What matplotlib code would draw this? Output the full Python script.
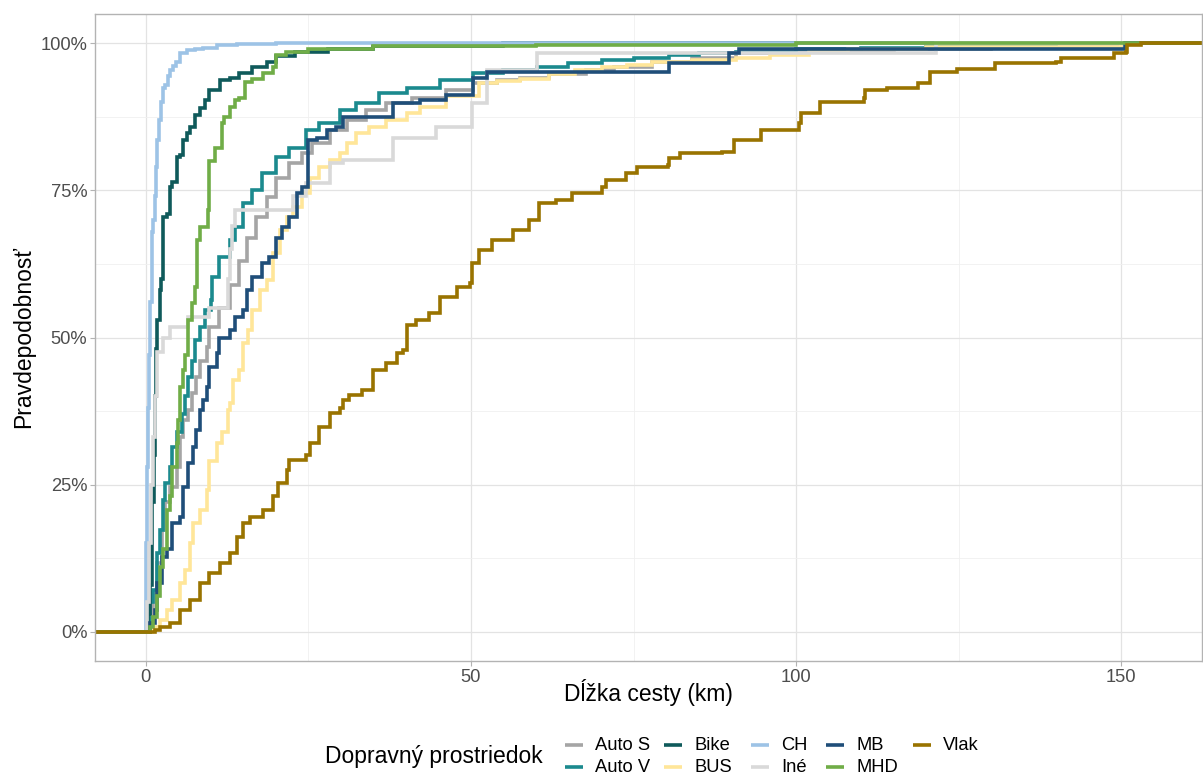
import numpy as np
import matplotlib
matplotlib.use("Agg")
import matplotlib.pyplot as plt
from matplotlib.lines import Line2D
from matplotlib.ticker import FixedLocator, FuncFormatter

plt.rcParams['font.family'] = ['Liberation Sans', 'DejaVu Sans']

# ---------------- data (ECDF breakpoints) ----------------
modes = ["Auto S", "Auto V", "Bike", "BUS", "CH", "Iné", "MB", "MHD", "Vlak"]
colors = ["#A5A5A5", "#1B8A8E", "#0F5A5B", "#FFE699", "#9DC3E6",
          "#D9D9D9", "#1F4E79", "#70AD47", "#997300"]

auto_s_km = [0.3, 1.1, 1.7, 2.5, 2.9, 3.7, 4.8, 5.2, 5.7, 6.5, 7.1, 7.8, 8.3, 9.4, 9.8,
             11.3, 12.9, 14.4, 15.5, 17.0, 18.6, 20.1, 22.1, 24.1, 25.6, 28.3, 30.9, 33.9,
             37.0, 41.0, 46.2, 50.3, 54.0, 57.5, 62.0, 67.7, 72.0, 77.9, 84.0, 90.8, 100.0,
             115.0, 130.0, 150.0]
auto_s_p = [0.025, 0.066, 0.117, 0.173, 0.22, 0.246, 0.28, 0.33, 0.36, 0.377, 0.406, 0.433,
            0.46, 0.484, 0.518, 0.55, 0.59, 0.63, 0.67, 0.705, 0.739, 0.772, 0.796, 0.813,
            0.83, 0.852, 0.869, 0.886, 0.898, 0.908, 0.92, 0.932, 0.938, 0.942, 0.948,
            0.954, 0.96, 0.968, 0.976, 0.983, 0.986, 0.99, 0.994, 1.0]

auto_v_km = [0.2, 0.6, 1.1, 1.7, 2.15, 2.6, 2.9, 3.7, 4.1, 4.8, 5.5, 6.0, 6.5, 7.1, 7.5,
             8.3, 9.1, 10.1, 10.2, 11.3, 12.9, 13.7, 14.9, 16.4, 17.9, 20.1, 22.1, 24.7,
             26.7, 29.8, 32.4, 35.9, 40.1, 45.2, 50.3, 55.0, 60.1, 65.0, 70.2, 75.0, 80.5,
             85.0, 90.8, 100.0, 110.0, 120.0, 130.0, 140.0]
auto_v_p = [0.015, 0.05, 0.07, 0.134, 0.173, 0.224, 0.253, 0.28, 0.314, 0.34, 0.37, 0.40,
            0.433, 0.46, 0.496, 0.518, 0.547, 0.564, 0.603, 0.637, 0.665, 0.688, 0.728,
            0.75, 0.78, 0.807, 0.823, 0.852, 0.864, 0.886, 0.898, 0.915, 0.925, 0.937,
            0.949, 0.955, 0.96, 0.966, 0.971, 0.976, 0.98, 0.983, 0.986, 0.99, 0.993,
            0.995, 0.997, 1.0]

bike_km = [0.3, 0.6, 0.9, 1.0, 1.2, 1.4, 1.6, 1.7, 2.15, 2.4, 2.6, 3.2, 3.7, 4.1, 4.8,
           5.2, 5.7, 6.3, 6.8, 7.5, 8.3, 9.1, 9.8, 11.4, 12.9, 14.4, 16.4, 18.6, 20.1,
           23.0, 28.0, 35.0, 55.0]
bike_p = [0.03, 0.08, 0.15, 0.22, 0.30, 0.40, 0.48, 0.53, 0.58, 0.60, 0.705, 0.71, 0.756,
          0.764, 0.807, 0.81, 0.835, 0.847, 0.858, 0.878, 0.89, 0.903, 0.92, 0.937, 0.942,
          0.95, 0.96, 0.968, 0.978, 0.985, 0.99, 0.995, 1.0]

bus_km = [0.9, 2.15, 3.2, 4.1, 5.2, 6.0, 6.8, 7.2, 8.3, 9.4, 9.8, 10.9, 11.8, 12.6, 13.0,
          13.4, 14.4, 14.9, 15.7, 16.4, 17.5, 18.6, 19.5, 20.6, 21.7, 22.6, 24.1, 25.2,
          26.7, 28.3, 29.8, 30.9, 32.4, 34.4, 37.0, 40.1, 42.1, 46.2, 51.3, 54.0, 57.5,
          62.0, 66.0, 70.2, 74.0, 77.9, 84.0, 90.8, 96.0, 102.0, 108.0, 120.0, 150.0]
bus_p = [0.008, 0.02, 0.037, 0.054, 0.083, 0.105, 0.15, 0.185, 0.207, 0.24, 0.29, 0.32,
         0.34, 0.377, 0.389, 0.428, 0.445, 0.49, 0.513, 0.547, 0.58, 0.598, 0.643, 0.683,
         0.705, 0.722, 0.745, 0.772, 0.79, 0.801, 0.813, 0.83, 0.847, 0.858, 0.869, 0.881,
         0.892, 0.91, 0.932, 0.936, 0.94, 0.948, 0.955, 0.96, 0.964, 0.968, 0.972, 0.976,
         0.981, 0.986, 0.99, 0.994, 1.0]

ch_km = [0.0, 0.1, 0.2, 0.3, 0.5, 0.7, 0.9, 1.1, 1.4, 1.6, 1.8, 2.1, 2.4, 2.6, 3.0, 3.4,
         3.7, 4.2, 4.6, 5.2, 6.3, 7.5, 8.8, 11.0, 14.0, 20.0]
ch_p = [0.05, 0.15, 0.28, 0.38, 0.47, 0.56, 0.68, 0.70, 0.74, 0.79, 0.835, 0.87, 0.90,
        0.925, 0.93, 0.945, 0.954, 0.962, 0.968, 0.983, 0.988, 0.991, 0.993, 0.998,
        0.999, 1.0]

ine_km = [0.2, 0.5, 0.8, 1.1, 1.4, 1.7, 2.6, 3.7, 6.5, 9.8, 12.7, 13.0, 13.3, 13.7, 22.6,
          24.7, 28.3, 30.3, 38.0, 44.7, 50.2, 52.4, 60.1, 121.5]
ine_p = [0.05, 0.15, 0.25, 0.33, 0.40, 0.475, 0.50, 0.518, 0.535, 0.55, 0.60, 0.65, 0.69,
         0.716, 0.74, 0.762, 0.796, 0.801, 0.84, 0.858, 0.898, 0.955, 0.983, 1.0]

mb_km = [0.6, 1.4, 1.8, 2.5, 3.2, 4.1, 5.2, 5.7, 6.5, 7.2, 7.8, 8.3, 8.8, 9.4, 9.8, 10.9,
         11.3, 12.9, 13.7, 14.9, 15.5, 16.4, 17.9, 19.0, 20.1, 21.0, 22.1, 23.3, 24.1,
         24.9, 26.3, 27.8, 29.3, 30.3, 38.0, 42.1, 46.2, 50.3, 52.4, 80.5, 89.7, 91.2,
         150.5]
mb_p = [0.015, 0.037, 0.083, 0.127, 0.14, 0.185, 0.195, 0.246, 0.287, 0.314, 0.343, 0.377,
        0.394, 0.416, 0.45, 0.474, 0.50, 0.513, 0.535, 0.547, 0.58, 0.603, 0.626, 0.637,
        0.67, 0.688, 0.705, 0.745, 0.756, 0.835, 0.84, 0.852, 0.858, 0.875, 0.898, 0.903,
        0.912, 0.942, 0.951, 0.966, 0.983, 0.991, 1.0]

mhd_km = [0.6, 1.1, 1.7, 2.15, 2.6, 3.2, 3.7, 4.1, 4.8, 4.9, 5.2, 5.7, 6.0, 6.5, 7.1, 7.6,
          7.9, 8.3, 9.5, 9.8, 10.6, 11.7, 12.1, 12.9, 13.7, 14.4, 15.2, 16.4, 18.0, 19.5,
          20.1, 21.5, 25.0, 35.0, 60.0, 100.0]
mhd_p = [0.008, 0.025, 0.06, 0.11, 0.14, 0.207, 0.23, 0.28, 0.32, 0.36, 0.416, 0.445, 0.47,
         0.53, 0.558, 0.586, 0.665, 0.688, 0.716, 0.80, 0.823, 0.864, 0.875, 0.892, 0.903,
         0.908, 0.934, 0.94, 0.95, 0.96, 0.98, 0.985, 0.99, 0.995, 0.998, 1.0]

vlak_km = [1.4, 2.15, 3.7, 5.2, 6.8, 8.3, 9.8, 11.4, 12.9, 14.0, 14.9, 16.0, 18.0, 19.5,
           20.3, 21.7, 22.1, 24.7, 25.2, 26.7, 28.3, 29.8, 30.3, 31.3, 33.3, 34.9, 37.0,
           38.6, 39.5, 40.1, 41.6, 43.6, 45.2, 47.8, 49.8, 50.2, 51.3, 53.3, 56.4, 59.0,
           60.5, 63.1, 65.6, 70.2, 70.8, 73.9, 75.6, 80.3, 80.5, 82.2, 88.6, 90.5, 94.6,
           100.5, 100.7, 103.7, 110.4, 110.6, 114.0, 118.7, 120.6, 124.7, 130.6, 140.0,
           140.7, 147.2, 148.9, 150.7, 150.9, 153.0]
vlak_p = [0.003, 0.007, 0.015, 0.037, 0.054, 0.083, 0.10, 0.117, 0.134, 0.16, 0.185, 0.195,
          0.207, 0.23, 0.253, 0.275, 0.292, 0.30, 0.32, 0.348, 0.372, 0.38, 0.394, 0.402,
          0.41, 0.445, 0.457, 0.474, 0.479, 0.521, 0.53, 0.542, 0.569, 0.586, 0.592, 0.626,
          0.648, 0.665, 0.683, 0.70, 0.728, 0.733, 0.745, 0.756, 0.767, 0.779, 0.79, 0.793,
          0.806, 0.813, 0.815, 0.835, 0.852, 0.864, 0.881, 0.90, 0.907, 0.92, 0.924, 0.932,
          0.951, 0.957, 0.966, 0.968, 0.975, 0.976, 0.983, 0.985, 0.997, 1.0]

series_km = [auto_s_km, auto_v_km, bike_km, bus_km, ch_km, ine_km, mb_km, mhd_km, vlak_km]
series_p = [auto_s_p, auto_v_p, bike_p, bus_p, ch_p, ine_p, mb_p, mhd_p, vlak_p]

x_ticks = [0, 50, 100, 150]
x_minor = [25, 75, 125]
y_ticks = [0, 0.25, 0.5, 0.75, 1.0]
y_minor = [0.125, 0.375, 0.625, 0.875]

# ---------------- figure ----------------
W, H = 1203, 774
fig = plt.figure(figsize=(W / 100, H / 100), dpi=100)
ax = fig.add_axes([95 / W, 1 - 661 / H, (1202 - 95) / W, (661 - 14) / H])

XL, XR = -7.8, 162.4
ax.set_xlim(XL, XR)
ax.set_ylim(-0.05, 1.05)

LW = 2.6
for name, km, p, c in zip(modes, series_km, series_p, colors):
    xs = np.r_[XL - 10, np.asarray(km), XR + 10]
    ys = np.r_[0.0, np.asarray(p), 1.0]
    ax.step(xs, ys, where='post', color=c, lw=LW, solid_joinstyle='miter',
            solid_capstyle='butt', label=name)

# grid
ax.xaxis.set_major_locator(FixedLocator(x_ticks))
ax.xaxis.set_minor_locator(FixedLocator(x_minor))
ax.yaxis.set_major_locator(FixedLocator(y_ticks))
ax.yaxis.set_minor_locator(FixedLocator(y_minor))
ax.yaxis.set_major_formatter(FuncFormatter(lambda v, _: f"{int(round(v * 100))}%"))
ax.grid(which='major', color='#E3E3E3', lw=0.9, zorder=0)
ax.grid(which='minor', color='#F0F0F0', lw=0.6, zorder=0)
ax.set_axisbelow(True)

for s in ax.spines.values():
    s.set_color('#B3B3B3')
    s.set_linewidth(1.0)

ax.tick_params(which='major', length=3.5, width=0.8, color='#B3B3B3',
               labelsize=13.2, labelcolor='#4D4D4D', pad=2)
ax.tick_params(which='minor', length=0)

# axis titles
fig.text(648 / W, 1 - 692 / H, "Dĺžka cesty (km)", ha='center', va='center',
         fontsize=16.5, color='black')
fig.text(24 / W, 1 - 337 / H, "Pravdepodobnosť", ha='center', va='center',
         rotation=90, fontsize=16.5, color='black')

# legend (bottom, horizontal, 2 rows, column-major)
fig.text(325 / W, 1 - 757 / H, "Dopravný prostriedok", ha='left', va='center',
         fontsize=16.5, color='black')
col_x = [565, 664, 751, 826, 913]
row_y = [745, 767]
for i, (name, c) in enumerate(zip(modes, colors)):
    col, row = divmod(i, 2)
    x0 = col_x[col]
    y = 1 - row_y[row] / H
    fig.add_artist(Line2D([x0 / W, (x0 + 18) / W], [y, y], color=c, lw=LW,
                          solid_capstyle='butt', transform=fig.transFigure))
    fig.text((x0 + 30) / W, y, name, ha='left', va='center', fontsize=13.2,
             color='black')

fig.savefig("out.png", dpi=100)
